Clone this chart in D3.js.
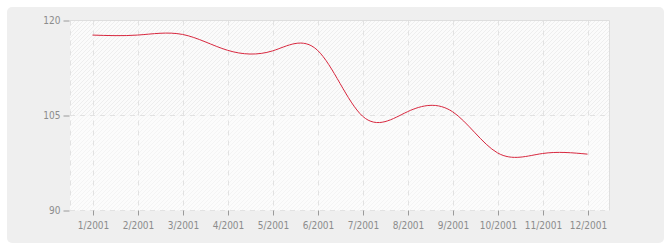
<!DOCTYPE html>
<html>
<head>
<meta charset="utf-8">
<script src="https://cdn.jsdelivr.net/npm/d3@7"></script>
<style>
  body { margin: 0; background: #fff; }
  svg { display: block; }
  .tick text { font-family: "DejaVu Sans Condensed", "DejaVu Sans", sans-serif; font-size: 10px; fill: #8c8c8c; }
  .tick line { stroke: #9a9a9a; }
</style>
</head>
<body>
<svg id="chart" width="670" height="250"></svg>
<script>
  // data
  const months = ["1/2001", "2/2001", "3/2001", "4/2001", "5/2001", "6/2001",
                  "7/2001", "8/2001", "9/2001", "10/2001", "11/2001", "12/2001"];
  const values = [117.7, 117.7, 117.8, 115.3, 115.2, 115.3,
                  104.9, 105.6, 105.6, 99.1, 99.0, 98.9];
  const yTicks = [90, 105, 120];

  const svg = d3.select("#chart");
  const plot = { left: 70, right: 610, top: 20.5, bottom: 210.5 };

  // panel background
  svg.append("rect")
    .attr("x", 7).attr("y", 7)
    .attr("width", 657).attr("height", 236)
    .attr("rx", 5)
    .attr("fill", "#efefef");

  // hatch patterns
  const defs = svg.append("defs");
  function hatch(id, bg, fg) {
    const p = defs.append("pattern")
      .attr("id", id)
      .attr("patternUnits", "userSpaceOnUse")
      .attr("width", 4).attr("height", 4);
    p.append("rect").attr("width", 4).attr("height", 4).attr("fill", bg);
    p.append("path")
      .attr("d", "M-1,1 l2,-2 M0,4 l4,-4 M3,5 l2,-2")
      .attr("stroke", fg).attr("stroke-width", 1);
  }
  hatch("hatchTop", "#fbfbfb", "#eeeeee");
  hatch("hatchBottom", "#fcfcfc", "#f4f4f4");

  const x = d3.scalePoint()
    .domain(months)
    .range([plot.left, plot.right])
    .padding(0.5);

  const y = d3.scaleLinear()
    .domain([90, 120])
    .range([plot.bottom, plot.top]);

  // plot background, two bands
  svg.append("rect")
    .attr("x", plot.left).attr("y", y(120))
    .attr("width", plot.right - plot.left).attr("height", y(105) - y(120))
    .attr("fill", "url(#hatchTop)");
  svg.append("rect")
    .attr("x", plot.left).attr("y", y(105))
    .attr("width", plot.right - plot.left).attr("height", y(90) - y(105))
    .attr("fill", "url(#hatchBottom)");

  // grid
  const grid = svg.append("g")
    .attr("stroke", "#e2e2e2")
    .attr("stroke-dasharray", "5,5")
    .attr("fill", "none");

  grid.selectAll(".vgrid")
    .data(months)
    .enter()
    .append("line")
    .attr("x1", d => Math.round(x(d)) + 0.5)
    .attr("x2", d => Math.round(x(d)) + 0.5)
    .attr("y1", plot.top)
    .attr("y2", plot.bottom);

  grid.selectAll(".hgrid")
    .data([90, 105])
    .enter()
    .append("line")
    .attr("x1", plot.left)
    .attr("x2", plot.right)
    .attr("y1", d => y(d))
    .attr("y2", d => y(d));

  grid.append("line")
    .attr("x1", plot.left + 0.5).attr("x2", plot.left + 0.5)
    .attr("y1", plot.top).attr("y2", plot.bottom);

  // top and right border
  svg.append("path")
    .attr("d", `M${plot.left},${plot.top}H${plot.right - 0.5}V${plot.bottom}`)
    .attr("fill", "none")
    .attr("stroke", "#dedede");

  // axes
  const yAxis = svg.append("g")
    .attr("transform", `translate(${plot.left - 0.5},0)`)
    .call(d3.axisLeft(y).tickValues(yTicks).tickSize(6).tickPadding(3));
  yAxis.select(".domain").remove();

  const xAxis = svg.append("g")
    .attr("transform", `translate(0,${plot.bottom})`)
    .call(d3.axisBottom(x).tickSize(5).tickPadding(6));
  xAxis.select(".domain").remove();
  xAxis.selectAll(".tick")
    .attr("transform", d => `translate(${Math.round(x(d)) + 0.5},0)`);

  // the line
  const line = d3.line()
    .x((d, i) => x(months[i]))
    .y(d => y(d))
    .curve(d3.curveNatural);

  svg.append("path")
    .datum(values)
    .attr("d", line)
    .attr("fill", "none")
    .attr("stroke", "#d8283f")
    .attr("stroke-width", 1);
</script>
</body>
</html>
